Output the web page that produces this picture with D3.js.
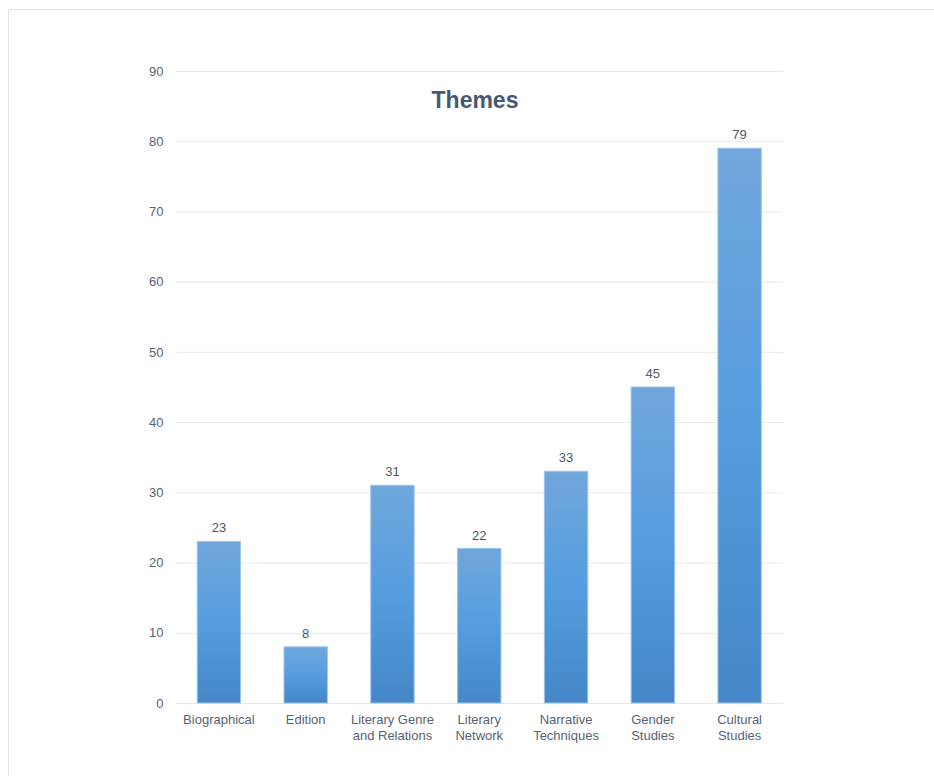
<!DOCTYPE html>
<html>
<head>
<meta charset="utf-8">
<script src="https://cdn.jsdelivr.net/npm/d3@7"></script>
<style>
  html, body { margin: 0; padding: 0; background: #ffffff; }
  svg { display: block; font-family: "Liberation Sans", Arial, Helvetica, sans-serif; }
</style>
</head>
<body>
<svg id="chart" width="934" height="776"></svg>
<script>
// Theme counts
const categories = [
  ["Biographical"],
  ["Edition"],
  ["Literary Genre", "and Relations"],
  ["Literary", "Network"],
  ["Narrative", "Techniques"],
  ["Gender", "Studies"],
  ["Cultural", "Studies"]
];
const counts = [23, 8, 31, 22, 33, 45, 79];
const yTicks = [0, 10, 20, 30, 40, 50, 60, 70, 80, 90];
const chartTitle = "Themes";

const svg = d3.select("#chart");
const W = 934, H = 776;
const plot = { left: 175.5, right: 783, top: 71, bottom: 703 };

// Outer frame
svg.append("rect")
  .attr("x", 8.5).attr("y", 9.5)
  .attr("width", W).attr("height", H)
  .attr("fill", "#ffffff")
  .attr("stroke", "#e1e1e8").attr("stroke-width", 1);

const x = d3.scaleBand()
  .domain(d3.range(categories.length))
  .range([plot.left, plot.right])
  .paddingInner(0.5)
  .paddingOuter(0.25);

const y = d3.scaleLinear().domain([0, 90]).range([plot.bottom, plot.top]);

// Bar gradient
const defs = svg.append("defs");
const grad = defs.append("linearGradient")
  .attr("id", "barGrad")
  .attr("x1", 0).attr("y1", 0).attr("x2", 0).attr("y2", 1);
grad.append("stop").attr("offset", "0%").attr("stop-color", "#70a7dc");
grad.append("stop").attr("offset", "50%").attr("stop-color", "#559ddf");
grad.append("stop").attr("offset", "100%").attr("stop-color", "#4487c6");

// Horizontal grid lines
const yAxis = d3.axisLeft(y)
  .tickValues(yTicks)
  .tickSize(-(plot.right - plot.left))
  .tickPadding(12)
  .tickFormat(d3.format("d"));

const gy = svg.append("g")
  .attr("transform", `translate(${plot.left},0)`)
  .call(yAxis);
gy.select(".domain").remove();
gy.selectAll(".tick line")
  .attr("stroke", "#e6e8ee").attr("stroke-width", 1);
gy.selectAll(".tick text")
  .attr("fill", "#586275")
  .attr("font-size", 13);

// Bars
svg.append("g").selectAll("rect")
  .data(counts)
  .join("rect")
  .attr("x", (d, i) => x(i))
  .attr("y", d => y(d))
  .attr("width", x.bandwidth())
  .attr("height", d => y(0) - y(d))
  .attr("fill", "url(#barGrad)")
  .attr("stroke", "#9cc4ec")
  .attr("stroke-width", 1);

// Value labels
svg.append("g").selectAll("text")
  .data(counts)
  .join("text")
  .attr("x", (d, i) => x(i) + x.bandwidth() / 2)
  .attr("y", d => y(d) - 9)
  .attr("text-anchor", "middle")
  .attr("fill", "#4d586c")
  .attr("font-size", 13)
  .text(d => d);

// Category labels
const xl = svg.append("g").selectAll("text")
  .data(categories)
  .join("text")
  .attr("x", (d, i) => x(i) + x.bandwidth() / 2)
  .attr("y", 724)
  .attr("text-anchor", "middle")
  .attr("fill", "#586275")
  .attr("font-size", 13);
xl.selectAll("tspan")
  .data(d => d)
  .join("tspan")
  .attr("x", function () { return d3.select(this.parentNode).attr("x"); })
  .attr("dy", (d, j) => j === 0 ? 0 : 16)
  .text(d => d);

// Title
svg.append("text")
  .attr("x", 475)
  .attr("y", 108)
  .attr("text-anchor", "middle")
  .attr("fill", "#475872")
  .attr("font-size", 23)
  .attr("font-weight", "bold")
  .text(chartTitle);
</script>
</body>
</html>
